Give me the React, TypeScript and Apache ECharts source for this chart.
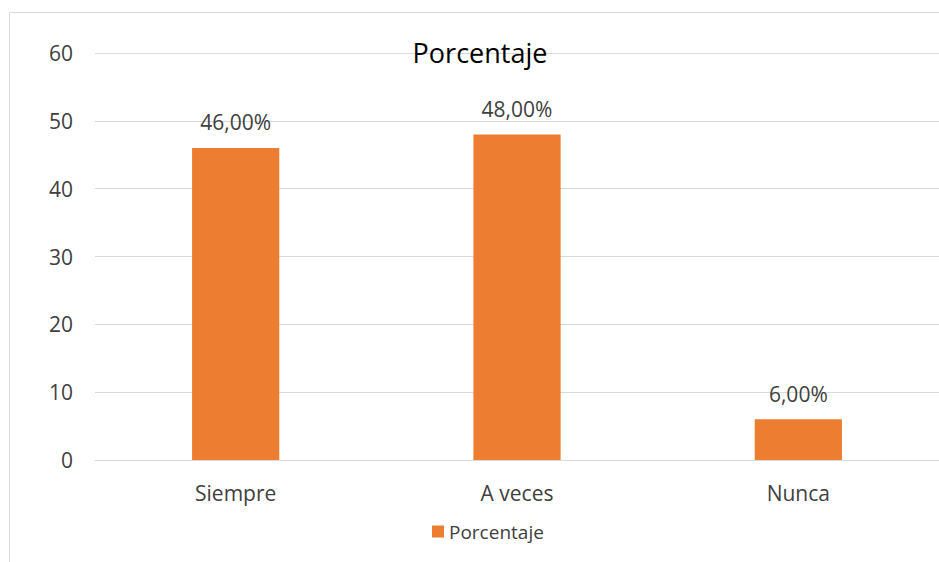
import React, { useEffect, useRef } from "react";
import * as echarts from "echarts";

const categories = ["Siempre", "A veces", "Nunca"];
const values = [46, 48, 6];
const seriesName = "Porcentaje";
const titleText = "Porcentaje";
const yTicks = { min: 0, max: 60, interval: 10 };

export default function App() {
  const ref = useRef<HTMLDivElement>(null);
  useEffect(() => {
    if (!ref.current) return;
    const chart = echarts.init(ref.current, null, { renderer: "svg" });
    const font = "'Open Sans', 'Noto Sans', sans-serif";
    chart.setOption({
      animation: false,
      backgroundColor: "#ffffff",
      textStyle: { fontFamily: font },
      title: {
        text: titleText,
        left: 475,
        textAlign: "center",
        top: 34,
        textStyle: { fontFamily: font, fontSize: 27, fontWeight: "normal", color: "#000000" },
      },
      graphic: [
        {
          type: "rect",
          shape: { x: 9.5, y: 12.5, width: 940, height: 560 },
          style: { fill: "none", stroke: "#d9d9d9", lineWidth: 1 },
          silent: true,
          z: -10,
        },
      ],
      legend: {
        data: [seriesName],
        bottom: 16,
        left: 427,
        itemWidth: 12,
        itemHeight: 12,
        icon: "rect",
        itemGap: 6,
        textStyle: { fontFamily: font, fontSize: 19, color: "#404040" },
      },
      grid: { left: 95, top: 53, width: 850, height: 407, containLabel: false },
      xAxis: {
        type: "category",
        data: categories,
        axisLine: { show: true, lineStyle: { color: "#d9d9d9", width: 1 } },
        axisTick: { show: false },
        axisLabel: { fontFamily: font, fontSize: 21, color: "#404040", margin: 22 },
      },
      yAxis: {
        type: "value",
        min: yTicks.min,
        max: yTicks.max,
        interval: yTicks.interval,
        axisLine: { show: false },
        axisTick: { show: false },
        splitLine: { lineStyle: { color: "#d9d9d9", width: 1 } },
        axisLabel: { fontFamily: font, fontSize: 21, color: "#404040", margin: 22 },
      },
      series: [
        {
          name: seriesName,
          type: "bar",
          data: values,
          barWidth: "31%",
          itemStyle: { color: "#ED7D31" },
          label: {
            show: true,
            position: "top",
            distance: 15,
            fontFamily: font,
            fontSize: 21,
            color: "#404040",
            formatter: (p: any) => p.value.toFixed(2).replace(".", ",") + "%",
          },
        },
      ],
    });
    return () => chart.dispose();
  }, []);
  return (
    <div
      ref={ref}
      style={{ position: "fixed", left: 0, top: 0, width: 939, height: 562 }}
    />
  );
}
